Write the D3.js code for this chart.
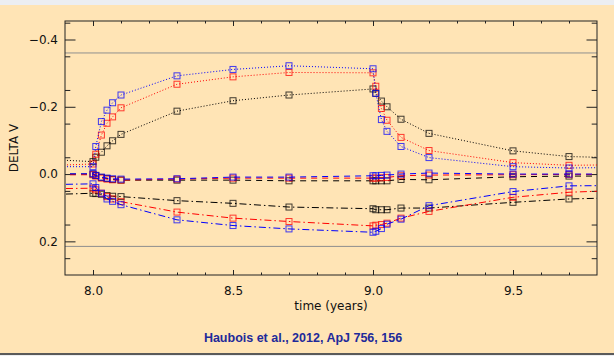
<!DOCTYPE html>
<html>
<head>
<meta charset="utf-8">
<script src="https://cdn.jsdelivr.net/npm/d3@7"></script>
<style>
	body { margin: 0; background: #eceef2; }
	svg { display: block; }
	.axis text { font-family: "DejaVu Sans", sans-serif; font-size: 12px; fill: #111; }
	.axis line { stroke: #222; }
	.axis path { display: none; }
</style>
</head>
<body>
<div id="chart"></div>
<script>

// time points (years); first and last lie outside the plotted range and get clipped
var times = [7.8, 8.0, 8.01, 8.03, 8.05, 8.07, 8.1, 8.3, 8.5, 8.7, 9.0, 9.01, 9.03, 9.05, 9.1, 9.2, 9.5, 9.7, 9.9];

var blackDotted  = [-0.045, -0.037, -0.050, -0.065, -0.084, -0.099, -0.118, -0.187, -0.218, -0.235, -0.253, -0.240, -0.217, -0.200, -0.163, -0.121, -0.069, -0.052, -0.048];
var redDotted    = [-0.024, -0.030, -0.059, -0.116, -0.151, -0.170, -0.197, -0.267, -0.289, -0.302, -0.301, -0.261, -0.195, -0.160, -0.109, -0.070, -0.034, -0.026, -0.028];
var blueDotted   = [-0.022, -0.022, -0.082, -0.156, -0.190, -0.212, -0.235, -0.292, -0.311, -0.322, -0.313, -0.240, -0.162, -0.127, -0.082, -0.049, -0.022, -0.018, -0.020];

var blackDashed  = [0.000, 0.000, 0.004, 0.010, 0.013, 0.016, 0.018, 0.018, 0.018, 0.020, 0.020, 0.020, 0.020, 0.020, 0.016, 0.017, 0.008, 0.006, 0.006];
var redDashed    = [0.002, 0.002, 0.006, 0.012, 0.015, 0.017, 0.018, 0.015, 0.012, 0.012, 0.012, 0.012, 0.011, 0.010, 0.005, 0.003, 0.002, 0.001, 0.001];
var blueDashed   = [0.000, -0.001, 0.004, 0.009, 0.012, 0.014, 0.015, 0.014, 0.009, 0.009, 0.005, 0.005, 0.004, 0.003, 0.000, -0.003, 0.000, 0.000, 0.000];

var blackDashDot = [0.062, 0.057, 0.058, 0.060, 0.064, 0.066, 0.067, 0.079, 0.087, 0.098, 0.103, 0.106, 0.106, 0.106, 0.101, 0.101, 0.084, 0.074, 0.070];
var redDashDot   = [0.044, 0.042, 0.047, 0.057, 0.067, 0.074, 0.082, 0.113, 0.131, 0.141, 0.154, 0.152, 0.150, 0.146, 0.131, 0.111, 0.069, 0.054, 0.048];
var blueDashDot  = [0.032, 0.029, 0.040, 0.057, 0.074, 0.081, 0.091, 0.136, 0.153, 0.163, 0.173, 0.170, 0.162, 0.149, 0.134, 0.094, 0.052, 0.035, 0.034];

var refLevels = [-0.36, 0.215];

var xTicks = [8.0, 8.5, 9.0, 9.5];
var xTickLabels = ["8.0", "8.5", "9.0", "9.5"];
var yTicks = [-0.4, -0.2, 0.0, 0.2];
var yTickLabels = ["\u22120.4", "\u22120.2", "0.0", "0.2"];

var xLabel = "time (years)",
	yLabel = "DELTA V",
	caption = "Haubois et al., 2012, ApJ 756, 156";


var series = [
	{values: blackDashDot, color: "#000", dash: "7,3,1.5,3"},
	{values: redDashDot, color: "#f00", dash: "7,3,1.5,3"},
	{values: blueDashDot, color: "#00f", dash: "7,3,1.5,3"},
	{values: blackDashed, color: "#000", dash: "6,5"},
	{values: redDashed, color: "#f00", dash: "6,5"},
	{values: blueDashed, color: "#00f", dash: "6,5"},
	{values: blackDotted, color: "#000", dash: "1,2"},
	{values: redDotted, color: "#f00", dash: "1,2"},
	{values: blueDotted, color: "#00f", dash: "1,2"}
];

var W = 614, H = 356,
	plot = {left: 65, right: 597, top: 21, bottom: 275};

var x = d3.scaleLinear().domain([7.9, 9.8]).range([plot.left, plot.right]);
var y = d3.scaleLinear().domain([-0.455, 0.3]).range([plot.top, plot.bottom]);

var svg = d3.select("#chart")
	.append("svg")
		.attr("width", W)
		.attr("height", H);

// slide background
svg.append("rect").attr("x", 0).attr("y", 5).attr("width", W).attr("height", 348).attr("fill", "#ffe4b5");
svg.append("rect").attr("x", 0).attr("y", 353).attr("width", W).attr("height", 2).attr("fill", "#5a5a5a");

svg.append("defs").append("clipPath").attr("id", "plotclip")
	.append("rect")
		.attr("x", plot.left).attr("y", plot.top)
		.attr("width", plot.right - plot.left).attr("height", plot.bottom - plot.top);

// reference levels
svg.append("g")
	.selectAll("line")
	.data(refLevels)
	.enter().append("line")
		.attr("x1", plot.left).attr("x2", plot.right)
		.attr("y1", function(d) { return y(d); })
		.attr("y2", function(d) { return y(d); })
		.attr("stroke", "#8f8f8f")
		.attr("stroke-width", 1);

// axes: IDL style, ticks pointing inwards on all four sides
var xMinor = d3.range(80, 98).map(function(d) { return d / 10; }).filter(function(d) { return xTicks.indexOf(d) < 0; });
var yMinor = d3.range(-9, 6).map(function(d) { return d * 0.05; }).filter(function(d) { return Math.abs(Math.round(d * 10) - d * 10) > 0.01; });

function fmt(ticks, labels) {
	return function(d) { return labels[ticks.indexOf(d)]; };
}

var axes = [
	[d3.axisBottom(x).tickValues(xTicks).tickSize(-5).tickPadding(11.5).tickFormat(fmt(xTicks, xTickLabels)), plot.bottom, 0],
	[d3.axisBottom(x).tickValues(xMinor).tickSize(-2.5).tickFormat(""), plot.bottom, 0],
	[d3.axisTop(x).tickValues(xTicks).tickSize(-5).tickFormat(""), plot.top, 0],
	[d3.axisTop(x).tickValues(xMinor).tickSize(-2.5).tickFormat(""), plot.top, 0],
	[d3.axisLeft(y).tickValues(yTicks).tickSize(-10.5).tickPadding(7).tickFormat(fmt(yTicks, yTickLabels)), 0, plot.left],
	[d3.axisLeft(y).tickValues(yMinor).tickSize(-5.3).tickFormat(""), 0, plot.left],
	[d3.axisRight(y).tickValues(yTicks).tickSize(-10.5).tickFormat(""), 0, plot.right],
	[d3.axisRight(y).tickValues(yMinor).tickSize(-5.3).tickFormat(""), 0, plot.right]
];

axes.forEach(function(a) {
	svg.append("g")
		.attr("class", "axis")
		.attr("transform", "translate(" + a[2] + "," + a[1] + ")")
		.call(a[0].tickSizeOuter(0));
});

svg.append("rect")
	.attr("x", plot.left).attr("y", plot.top)
	.attr("width", plot.right - plot.left).attr("height", plot.bottom - plot.top)
	.attr("fill", "none")
	.attr("stroke", "#222")
	.attr("stroke-width", 1);

// curves
var line = d3.line()
	.x(function(d, i) { return x(times[i]); })
	.y(function(d) { return y(d); });

var groups = svg.append("g")
	.attr("clip-path", "url(#plotclip)")
	.selectAll("g")
	.data(series)
	.enter().append("g");

groups.append("path")
	.attr("d", function(s) { return line(s.values); })
	.attr("fill", "none")
	.attr("stroke", function(s) { return s.color; })
	.attr("stroke-width", 1)
	.attr("stroke-dasharray", function(s) { return s.dash; });

groups.selectAll("rect")
	.data(function(s) { return s.values.map(function(v, i) { return {t: times[i], v: v, color: s.color}; }); })
	.enter().append("rect")
		.attr("x", function(d) { return x(d.t) - 3; })
		.attr("y", function(d) { return y(d.v) - 3; })
		.attr("width", 6)
		.attr("height", 6)
		.attr("fill", "none")
		.attr("stroke", function(d) { return d.color; })
		.attr("stroke-opacity", 0.75)
		.attr("stroke-width", 1);

// labels
svg.append("text")
	.attr("x", (plot.left + plot.right) / 2)
	.attr("y", 310)
	.attr("text-anchor", "middle")
	.attr("font-family", "DejaVu Sans, sans-serif")
	.attr("font-size", 12)
	.attr("fill", "#111")
	.attr("xml:space", "preserve")
	.text(xLabel);

svg.append("text")
	.attr("transform", "translate(18," + ((plot.top + plot.bottom) / 2) + ") rotate(-90)")
	.attr("text-anchor", "middle")
	.attr("font-family", "DejaVu Sans, sans-serif")
	.attr("font-size", 12)
	.attr("fill", "#111")
	.text(yLabel);

svg.append("text")
	.attr("x", 303)
	.attr("y", 341.5)
	.attr("text-anchor", "middle")
	.attr("font-family", "Liberation Sans, Arial, sans-serif")
	.attr("font-weight", "bold")
	.attr("font-size", 12.5)
	.attr("fill", "#1e2a9a")
	.text(caption);

</script>
</body>
</html>
